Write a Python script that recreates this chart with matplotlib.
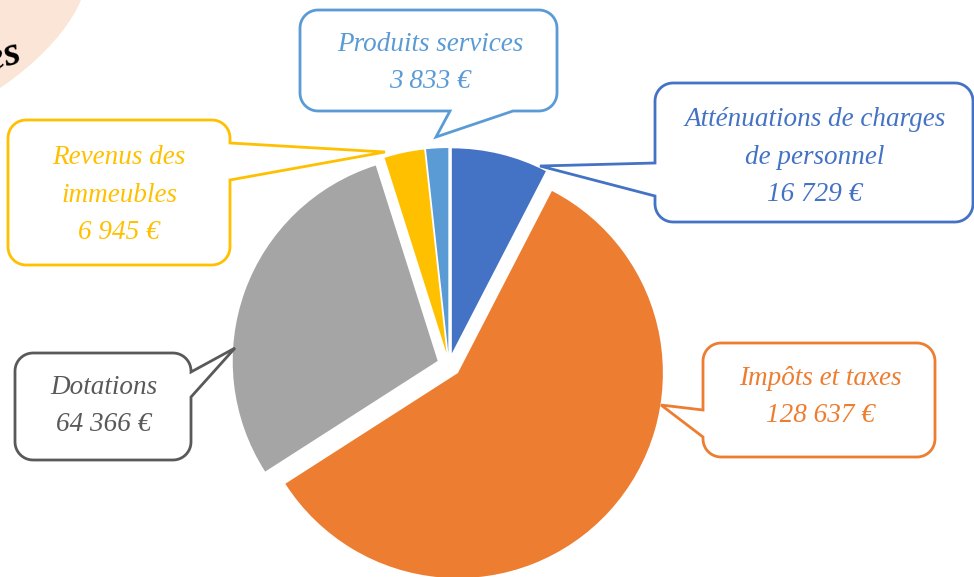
import matplotlib
matplotlib.use("Agg")
import matplotlib.pyplot as plt
import numpy as np
from matplotlib.patches import Polygon, Ellipse

W, H = 974, 577

labels = ["Atténuations de charges\nde personnel", "Impôts et taxes", "Dotations",
          "Revenus des\nimmeubles", "Produits services"]
values = [16729, 128637, 64366, 6945, 3833]
amounts = ["16 729 €", "128 637 €", "64 366 €", "6 945 €", "3 833 €"]
colors = ["#4472C4", "#ED7D31", "#A5A5A5", "#FFC000", "#5B9BD5"]
text_colors = ["#4472C4", "#ED7D31", "#595959", "#FFC000", "#5B9BD5"]


def callout_points(l, t, r, b, side, base, tip, rad=18):
    # rounded box in image coords (y down) with a wedge pointer on one side
    pts = []

    def arc(cx, cy, a0, a1):
        th = np.radians(np.linspace(a0, a1, 12))
        return list(zip(cx + rad * np.cos(th), cy + rad * np.sin(th)))

    def wedge(p1, p2):
        return [p1, tip, p2]

    pts.append((l + rad, t))
    if side == "top":
        pts += wedge((base[0], t), (base[1], t))
    pts += arc(r - rad, t + rad, -90, 0)
    if side == "right":
        pts += wedge((r, base[0]), (r, base[1]))
    pts += arc(r - rad, b - rad, 0, 90)
    if side == "bottom":
        pts += wedge((base[1], b), (base[0], b))
    pts += arc(l + rad, b - rad, 90, 180)
    if side == "left":
        pts += wedge((l, base[1]), (l, base[0]))
    pts += arc(l + rad, t + rad, 180, 270)
    return [(x, H - y) for x, y in pts]


fig = plt.figure(figsize=(W / 100, H / 100), dpi=100)
ax = fig.add_axes([0, 0, 1, 1])

# decorative title bubble in the top-left corner (cut off)
ax.add_patch(Ellipse((-30, H - 35), 270, 120, angle=35, color="#FBE5D6", zorder=0))
ax.text(23, H - 62, "Recettes", fontsize=30, fontfamily="Liberation Serif",
        style="italic", fontweight="bold", color="black", ha="right",
        va="baseline", rotation=16, rotation_mode="anchor", zorder=1)

ax.pie(values, colors=colors, startangle=90, counterclock=False,
       explode=[12] * len(values), radius=205, center=(449, H - 365),
       wedgeprops=dict(linewidth=0))

# callout boxes: (left, top, right, bottom), side, pointer base, tip, text centre
boxes = [
    ((655, 83, 973, 222), "left", (163, 196), (540, 166), (815, 157)),
    ((703, 343, 935, 457), "left", (410, 437), (661, 405), (820, 397)),
    ((15, 353, 191, 460), "right", (372, 397), (235, 348), (104, 406)),
    ((8, 120, 230, 265), "right", (143, 180), (385, 152), (119, 195)),
    ((300, 10, 557, 111), "bottom", (450, 513), (436, 137), (430, 63)),
]

for i, (box, side, base, tip, ctr) in enumerate(boxes):
    pts = callout_points(*box, side, base, tip)
    ax.add_patch(Polygon(pts, closed=True, facecolor="white",
                         edgecolor=colors[i] if i != 2 else "#595959",
                         linewidth=2, joinstyle="miter", zorder=3))
    ax.text(ctr[0], H - ctr[1], f"{labels[i]}\n{amounts[i]}", fontsize=19.5,
            fontfamily="Liberation Serif", style="italic", color=text_colors[i],
            ha="center", va="center", multialignment="center",
            linespacing=1.65, zorder=4)

ax.set_xlim(0, W)
ax.set_ylim(0, H)
ax.set_aspect("equal")
ax.axis("off")

fig.savefig("out.png", dpi=100)
